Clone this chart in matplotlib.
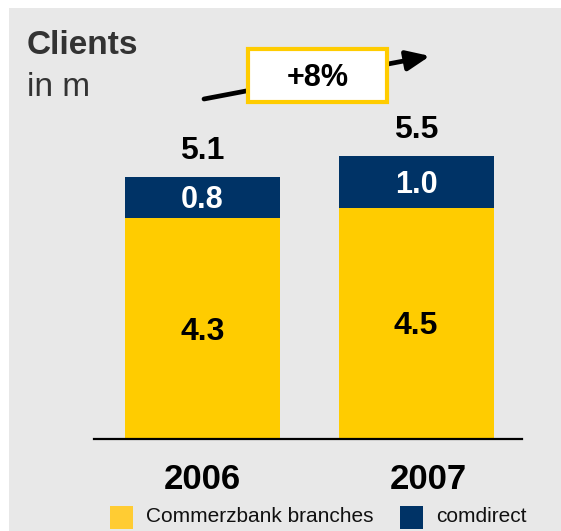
import matplotlib
matplotlib.use("Agg")
import matplotlib.pyplot as plt
from matplotlib.patches import Rectangle

plt.rcParams['font.family'] = ['Liberation Sans', 'DejaVu Sans']

# data
years = ['2006', '2007']
branches = [4.3, 4.5]
comdirect = [0.8, 1.0]
totals = [5.1, 5.5]
growth_label = '+8%'
series_names = ['Commerzbank branches', 'comdirect']

YELLOW = '#FFCC00'
NAVY = '#003366'
BG = '#E8E8E8'

W, H = 561, 531
fig = plt.figure(figsize=(W / 100, H / 100), dpi=100)
fig.patch.set_facecolor('white')


def px(x, y):
    # pixel (from top-left) -> figure fraction
    return x / W, 1 - y / H


# grey panel
fig.patches.append(Rectangle(px(9, H), (W - 9) / W, (H - 8) / H,
                             transform=fig.transFigure, facecolor=BG,
                             edgecolor='none', zorder=-10))

# axes: baseline at y=439px, x from 94 to 522px
ax_l, ax_b = px(94, 439)
ax = fig.add_axes([ax_l, ax_b, (522 - 94) / W, (439 - 8) / H])
ax.set_zorder(1)
ax.set_facecolor('none')
unit = 51.4  # px per million
ax.set_ylim(0, (439 - 8) / unit)
ax.set_xlim(-0.508, 1.496)

x = range(len(years))
ax.bar(x, branches, width=0.726, color=YELLOW, zorder=2)
ax.bar(x, comdirect, bottom=branches, width=0.726, color=NAVY, zorder=2)


def label(xx, yy, s, **kw):
    # small downward nudge so digits sit visually centred
    ax.annotate(s, (xx, yy), xytext=(0, -2.2), textcoords='offset points',
                ha='center', va='center', fontweight='bold', annotation_clip=False, **kw)


for i in x:
    label(i, branches[i] / 2, f'{branches[i]:.1f}', fontsize=23, color='black')
    label(i, branches[i] + comdirect[i] / 2, f'{comdirect[i]:.1f}', fontsize=22,
          color='white')
    label(i, totals[i] + 0.57, f'{totals[i]:.1f}', fontsize=23, color='black')

year_dx = [0, 0.055]
for i in x:
    label(i + year_dx[i], -0.72, years[i], fontsize=25, color='black')

for s in ['top', 'right', 'left']:
    ax.spines[s].set_visible(False)
ax.spines['bottom'].set_linewidth(1.6)
ax.spines['bottom'].set_color('black')
ax.set_xticks([])
ax.set_yticks([])

# title
fig.text(*px(27, 45), 'Clients', fontsize=24, fontweight='bold', color='#333333',
         ha='left', va='center')
fig.text(*px(27, 88), 'in m', fontsize=24, color='#333333', ha='left', va='center')

# growth arrow
ax.annotate('', xy=px(430, 56), xytext=px(204, 99),
            xycoords='figure fraction', textcoords='figure fraction',
            arrowprops=dict(arrowstyle='-|>,head_length=1.4,head_width=0.6',
                            lw=3.4, color='black', shrinkA=0, shrinkB=0),
            annotation_clip=False, zorder=4)
bx, by = px(248, 102)
ax.add_patch(Rectangle((bx, by), (387 - 248) / W, (102 - 49) / H,
                       transform=fig.transFigure, facecolor='white',
                       edgecolor=YELLOW, linewidth=3, zorder=5, clip_on=False))
ax.text(*px(318, 78), growth_label, transform=fig.transFigure, fontsize=22,
        fontweight='bold', color='black', ha='center', va='center', zorder=6)

# legend
leg_colors = ['#FFCC33', NAVY]
leg_x = [110, 400]
for name, c, lx in zip(series_names, leg_colors, leg_x):
    sx, sy = px(lx, 529)
    fig.patches.append(Rectangle((sx, sy), 23 / W, 23 / H, transform=fig.transFigure,
                                 facecolor=c, edgecolor='none', zorder=3))
    fig.text(*px(lx + 36, 517), name, fontsize=15, color='#111111',
             ha='left', va='center')

fig.savefig('out.png', dpi=100, facecolor=fig.get_facecolor())
